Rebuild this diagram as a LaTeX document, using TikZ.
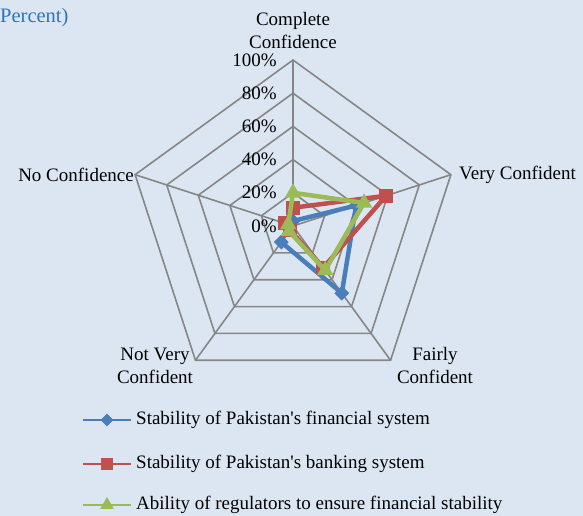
\documentclass[tikz,border=0pt]{standalone}
\usepackage{fontspec}
\setmainfont{Liberation Serif}
\usepackage{tikz}
\usetikzlibrary{positioning, shapes.geometric, calc}

\definecolor{chartbg}{RGB}{220,230,242}
\definecolor{gridgray}{RGB}{134,134,134}
\definecolor{seriesblue}{RGB}{74,126,187}
\definecolor{seriesred}{RGB}{192,80,77}
\definecolor{seriesgreen}{RGB}{155,187,89}
\definecolor{titleblue}{RGB}{46,117,182}

\begin{document}
\begin{tikzpicture}[
    x=1pt, y=1pt,
    lbl/.style={
        inner sep=0pt,
        align=center,
        font=\fontsize{19}{23}\selectfont
    },
    grid/.style={
        draw=gridgray,
        line width=1.6pt
    },
    series/.style={
        line width=4.5pt,
        line join=round
    },
    bluemark/.style={
        diamond,
        fill=seriesblue,
        inner sep=0pt,
        minimum size=15pt
    },
    redmark/.style={
        rectangle,
        fill=seriesred,
        inner sep=0pt,
        minimum size=14pt
    },
    greenmark/.style={
        regular polygon,
        regular polygon sides=3,
        fill=seriesgreen,
        inner sep=0pt,
        minimum size=19pt
    },
    keyline/.style={
        line width=1.6pt
    }
]
% Background and size
\fill[chartbg] (0,0) rectangle (583,516);
\useasboundingbox (0,0) rectangle (583,516);

\node[lbl, anchor=west, text=titleblue, font=\fontsize{20.5}{23}\selectfont] (title) at (0,498) {Percent)};

% Radar grid
\begin{scope}[shift={(293,290)}]
\foreach \r [evaluate=\r as \rr using 33.2*\r] in {1,...,5}
    \draw[grid] (90:\rr) -- (18:\rr) -- (-54:\rr) -- (-126:\rr) -- (162:\rr) -- cycle;
\foreach \a in {90,18,-54,-126,162}
    \draw[grid] (0,0) -- (\a:166);

% Value labels
\foreach \p [count=\i from 0] in {0,20,40,60,80,100}
    \node[lbl, anchor=east] (tick\p) at (-16,{33.2*\i}) {\p\%};

% Category labels
\node[lbl] (complete) at (0,195) {Complete\\Confidence};
\node[lbl, anchor=west] (very) at (166,51) {Very Confident};
\node[lbl] (fairly) at (142,-140) {Fairly\\Confident};
\node[lbl] (notvery) at (-138,-140) {Not Very\\Confident};
\node[lbl, anchor=east] (noconf) at (-159,51) {No Confidence};

% Series points
\foreach \v [count=\i] in {3,40,50,12,3}
    \coordinate (b\i) at ({162-72*\i}:{1.66*\v});
\foreach \v [count=\i] in {11,59,31,3,5}
    \coordinate (r\i) at ({162-72*\i}:{1.66*\v});
\foreach \v [count=\i] in {20,45,33,4,3}
    \coordinate (g\i) at ({162-72*\i}:{1.66*\v});

% Series lines and markers
\draw[series, seriesblue] (b1) -- (b2) -- (b3) -- (b4) -- (b5) -- cycle;
\foreach \i in {1,...,5}
    \node[bluemark] (bm\i) at (b\i) {};
\draw[series, seriesred] (r1) -- (r2) -- (r3) -- (r4) -- (r5) -- cycle;
\foreach \i in {1,...,5}
    \node[redmark] (rm\i) at (r\i) {};
\draw[series, seriesgreen] (g1) -- (g2) -- (g3) -- (g4) -- (g5) -- cycle;
\foreach \i in {1,...,5}
    \node[greenmark] (gm\i) at (g\i) {};
\end{scope}

% Legend
\coordinate (k1a) at (83,96);  \coordinate (k1b) at (131,96);
\coordinate (k2a) at (83,52);  \coordinate (k2b) at (131,52);
\coordinate (k3a) at (83,11);  \coordinate (k3b) at (131,11);
\draw[keyline, seriesblue] (k1a) -- (k1b);
\draw[keyline, seriesred] (k2a) -- (k2b);
\draw[keyline, seriesgreen] (k3a) -- (k3b);
\node[bluemark, minimum size=13pt] (key1) at ($(k1a)!0.5!(k1b)$) {};
\node[redmark, minimum size=12pt] (key2) at ($(k2a)!0.5!(k2b)$) {};
\node[greenmark, minimum size=16pt] (key3) at ($(k3a)!0.5!(k3b)$) {};
\node[lbl, anchor=west] (text1) at (136,96) {Stability of Pakistan\textquotesingle s financial system};
\node[lbl, anchor=west] (text2) at (136,52) {Stability of Pakistan\textquotesingle s banking system};
\node[lbl, anchor=west] (text3) at (136,11) {Ability of regulators to ensure financial stability};
\end{tikzpicture}
\end{document}
